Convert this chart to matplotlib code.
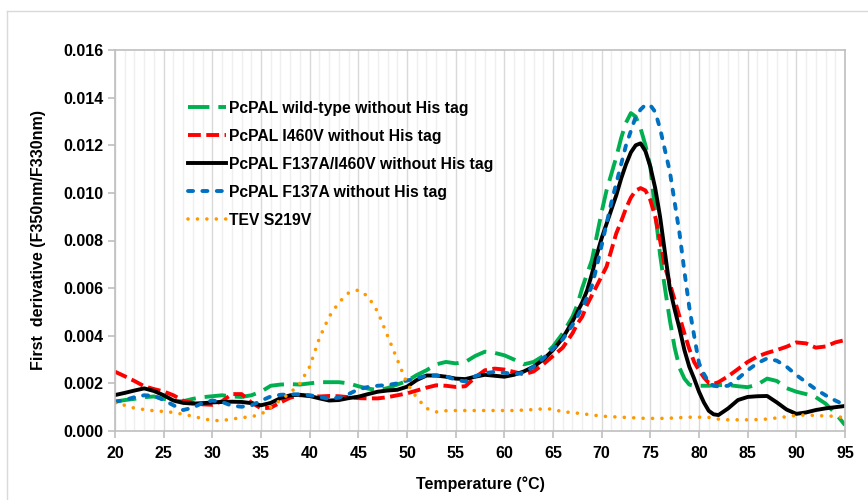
import numpy as np
import matplotlib
matplotlib.use("Agg")
import matplotlib.pyplot as plt
from matplotlib.lines import Line2D

plt.rcParams['font.family'] = ['Liberation Sans', 'DejaVu Sans']
plt.rcParams['font.weight'] = 'bold'

# temperature grid (°C): 1 degree steps, half degree steps around the peak
temps = list(range(20, 68)) + [67.5 + 0.5 * i for i in range(29)] + list(range(82, 96))

# first derivative values, in units of 0.001
wild_type = [1.23, 1.3, 1.35, 1.42, 1.45, 1.35, 1.25, 1.25, 1.35, 1.42,
             1.46, 1.5, 1.45, 1.43, 1.5, 1.65, 1.9, 1.95, 1.97, 1.95,
             2.0, 2.05, 2.05, 2.05, 2.0, 1.88, 1.78, 1.72, 1.8, 1.95,
             2.1, 2.35, 2.55, 2.8, 2.9, 2.84, 2.9, 3.15, 3.33, 3.28,
             3.18, 3.0, 2.8, 2.9, 3.15, 3.55, 4.1, 4.8,
             5.3, 6.0, 6.6, 7.18, 8.2, 9.2, 10.1, 10.8, 11.5, 12.3,
             12.95, 13.35, 13.2, 12.7, 12.0, 11.1, 9.2, 7.4, 6.0, 4.66,
             3.5, 2.65, 2.2, 1.95, 1.9, 1.9, 1.9, 1.9, 1.92,
             1.93, 1.93, 1.88, 1.84, 1.95, 2.2, 2.1, 1.8, 1.65, 1.55,
             1.42, 1.15, 0.75, 0.25]

i460v = [2.49, 2.3, 2.1, 1.88, 1.76, 1.66, 1.5, 1.27, 1.18, 1.12,
         1.1, 1.25, 1.55, 1.55, 1.2, 0.95, 0.98, 1.2, 1.4, 1.5,
         1.48, 1.45, 1.47, 1.46, 1.42, 1.38, 1.37, 1.37, 1.42, 1.5,
         1.58, 1.7, 1.82, 1.92, 1.9, 1.85, 1.88, 2.25, 2.55, 2.62,
         2.58, 2.48, 2.38, 2.5, 2.8, 3.15, 3.5, 4.1,
         4.5, 4.8, 5.3, 5.7, 6.1, 6.5, 6.9, 7.6, 8.3, 8.8,
         9.35, 9.8, 10.1, 10.2, 10.1, 9.7, 9.0, 8.0, 6.9, 6.2,
         5.5, 4.8, 4.1, 3.45, 2.9, 2.55, 2.25, 2.02, 1.98,
         2.05, 2.3, 2.6, 2.9, 3.13, 3.28, 3.4, 3.54, 3.72, 3.68,
         3.5, 3.55, 3.72, 3.82]

f137a_i460v = [1.51, 1.6, 1.7, 1.79, 1.68, 1.5, 1.28, 1.18, 1.15, 1.17,
               1.2, 1.22, 1.23, 1.22, 1.17, 1.08, 1.18, 1.38, 1.5, 1.52,
               1.47, 1.37, 1.28, 1.3, 1.38, 1.44, 1.55, 1.65, 1.7, 1.73,
               1.86, 2.14, 2.33, 2.33, 2.28, 2.2, 2.18, 2.28, 2.36, 2.32,
               2.28, 2.36, 2.5, 2.7, 3.0, 3.4, 3.9, 4.6,
               5.0, 5.4, 5.9, 6.6, 7.4, 8.1, 8.7, 9.3, 9.9, 10.6,
               11.2, 11.7, 12.0, 12.08, 11.75, 11.1, 10.2, 9.0, 7.5, 6.0,
               5.1, 4.3, 3.4, 2.7, 2.2, 1.65, 1.2, 0.85, 0.7,
               0.67, 0.95, 1.3, 1.43, 1.46, 1.47, 1.2, 0.9, 0.72, 0.78,
               0.88, 0.95, 1.0, 1.05]

f137a = [1.23, 1.3, 1.42, 1.5, 1.48, 1.3, 1.08, 0.88, 0.98, 1.18,
         1.28, 1.22, 1.06, 1.02, 1.07, 1.27, 1.45, 1.52, 1.54, 1.54,
         1.5, 1.43, 1.35, 1.4, 1.55, 1.75, 1.85, 1.9, 1.93, 2.0,
         2.12, 2.21, 2.33, 2.33, 2.3, 2.15, 2.08, 2.3, 2.43, 2.48,
         2.45, 2.38, 2.45, 2.7, 3.05, 3.45, 3.85, 4.45,
         4.8, 5.2, 5.6, 6.1, 6.9, 7.8, 8.7, 9.6, 10.4, 11.2,
         12.0, 12.6, 13.2, 13.5, 13.7, 13.68, 13.4, 12.7, 11.8, 10.9,
         9.6, 8.3, 6.7, 5.2, 4.0, 2.85, 2.4, 2.05, 1.9,
         1.87, 1.9, 2.2, 2.55, 2.85, 3.05, 2.95, 2.7, 2.35, 2.05,
         1.75, 1.5, 1.28, 1.09]

tev_s219v = [1.17, 1.08, 0.96, 0.9, 0.85, 0.82, 0.78, 0.7, 0.62, 0.52,
             0.44, 0.44, 0.5, 0.56, 0.6, 0.7, 1.0, 1.3, 1.6, 2.0,
             2.7, 3.9, 4.8, 5.4, 5.8, 5.92, 5.65, 5.0, 4.0, 3.0,
             2.0, 1.4, 0.95, 0.8, 0.85, 0.86, 0.86, 0.86, 0.86, 0.86,
             0.86, 0.86, 0.88, 0.9, 0.93, 0.92, 0.8, 0.78,
             0.75, 0.72, 0.7, 0.67, 0.65, 0.63, 0.61, 0.6, 0.59, 0.58,
             0.57, 0.56, 0.55, 0.54, 0.53, 0.53, 0.53, 0.53, 0.53, 0.54,
             0.55, 0.56, 0.57, 0.58, 0.58, 0.58, 0.58, 0.57, 0.54,
             0.5, 0.47, 0.47, 0.47, 0.48, 0.5, 0.55, 0.6, 0.66, 0.67,
             0.65, 0.63, 0.62, 0.55]

labels = ["PcPAL wild-type without His tag",
          "PcPAL I460V without His tag",
          "PcPAL F137A/I460V without His tag",
          "PcPAL F137A without His tag",
          "TEV S219V"]

fig = plt.figure(figsize=(8.68, 5.0), dpi=100)
ax = fig.add_axes([0.1325, 0.138, 0.841, 0.762])

# outer chart frame
fig.add_artist(Line2D([7 / 868, 1], [1 - 11 / 500, 1 - 11 / 500], color="#D9D9D9", lw=1))
fig.add_artist(Line2D([7 / 868, 7 / 868], [0, 1 - 11 / 500], color="#D9D9D9", lw=1))

x = np.array(temps)
s = 0.001
lw = 2.8
ax.plot(x, np.array(wild_type) * s, color="#00B050", lw=lw, dashes=(5.5, 2.3), label=labels[0])
ax.plot(x, np.array(i460v) * s, color="#FF0000", lw=lw, dashes=(3.3, 1.4), label=labels[1])
ax.plot(x, np.array(f137a_i460v) * s, color="black", lw=lw, label=labels[2])
ax.plot(x, np.array(f137a) * s, color="#0070C0", lw=lw, dashes=(1.3, 2.4),
        dash_capstyle="round", label=labels[3])
ax.plot(x, np.array(tev_s219v) * s, color="#FF9900", lw=2.6, dashes=(0.01, 2.6),
        dash_capstyle="round", label=labels[4])

ax.set_xlim(20, 95)
ax.set_ylim(0, 0.016)
ax.set_xticks(range(20, 96, 5))
ax.set_xticks(range(20, 96, 1), minor=True)
ax.set_yticks(np.arange(0, 0.0161, 0.002))
ax.set_yticklabels([f"{v:.3f}" for v in np.arange(0, 0.0161, 0.002)])
ax.grid(axis="x", which="major", color="#D9D9D9", lw=1)
ax.grid(axis="x", which="minor", color="#EFEFEF", lw=1)
ax.set_axisbelow(True)
for sp in ax.spines.values():
    sp.set_color("#BFBFBF")
    sp.set_linewidth(1.2)
ax.tick_params(axis="both", which="major", labelsize=11.5, color="#BFBFBF", length=5, width=1.2)
ax.tick_params(axis="x", which="minor", length=0)
ax.tick_params(axis="x", pad=6)
for t in ax.get_xticklabels() + ax.get_yticklabels():
    t.set_fontweight("bold")

ax.set_xlabel("Temperature (°C)", fontsize=11.5, fontweight="bold", labelpad=11)
ax.set_ylabel("First  derivative (F350nm/F330nm)", fontsize=11.5, fontweight="bold", labelpad=12)

leg = ax.legend(loc="upper left", bbox_to_anchor=(0.091, 0.883), frameon=False,
                prop={"size": 11.3, "weight": "bold"}, handlelength=2.45,
                handletextpad=0.2, labelspacing=0.83, borderaxespad=0)

fig.savefig("out.png", dpi=100)
